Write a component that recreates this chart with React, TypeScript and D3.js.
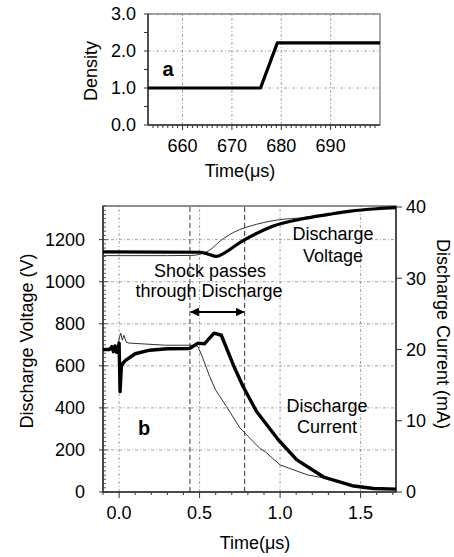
import React from "react";
import * as d3 from "d3";

// ---- panel a: density step ----
const densTime = [653, 675.8, 679.2, 700];
const densValue = [1.0, 1.0, 2.22, 2.22];
const densXTicks = [660, 670, 680, 690];
const densYTicks = [0, 1, 2, 3];

// ---- panel b: discharge voltage (V) ----
const vThickT = [-0.1, 0.3, 0.5, 0.55, 0.604, 0.65, 0.75, 0.85, 0.958, 1.125, 1.3, 1.4375, 1.6, 1.72];
const vThick = [1142, 1141, 1140, 1132, 1120, 1135, 1186, 1228, 1265, 1297, 1320, 1336, 1347, 1352];
const vThinT = [-0.1, 0.3, 0.45, 0.5, 0.5625, 0.63, 0.71, 0.854, 1.02, 1.125, 1.3, 1.4375, 1.6, 1.72];
const vThin = [1124, 1124, 1125, 1130, 1150, 1195, 1234, 1273, 1297, 1303, 1322, 1338, 1349, 1354];

// ---- panel b: discharge current (mA) ----
const iThickT = [-0.1, -0.06, -0.045, -0.035, -0.025, -0.015, -0.005, 0.0, 0.006, 0.014, 0.025, 0.042, 0.1, 0.19, 0.3, 0.44, 0.49, 0.53, 0.59, 0.635, 0.71, 0.77, 0.854, 0.99, 1.104, 1.27, 1.458, 1.58, 1.72];
const iThick = [20.0, 20.0, 20.4, 19.7, 20.5, 19.6, 20.3, 20.9, 14.1, 17.6, 18.1, 18.5, 19.4, 19.9, 20.1, 20.15, 20.9, 20.8, 22.3, 22.0, 17.8, 14.8, 11.3, 7.3, 4.5, 2.1, 0.84, 0.5, 0.4];
const iThinT = [-0.1, -0.01, 0.0, 0.01, 0.02, 0.03, 0.045, 0.0625, 0.29, 0.47, 0.49, 0.52, 0.5625, 0.6, 0.667, 0.75, 0.875, 0.91, 1.0, 1.17, 1.29, 1.458, 1.58, 1.72];
const iThin = [20.0, 20.0, 21.5, 22.3, 21.3, 22.0, 21.0, 20.9, 20.6, 20.6, 20.4, 18.8, 16.2, 14.3, 12.0, 9.0, 6.1, 5.6, 3.8, 2.4, 1.9, 0.84, 0.5, 0.4];

const bXTicks = [0, 0.5, 1.0, 1.5];
const bVTicks = [0, 200, 400, 600, 800, 1000, 1200];
const bITicks = [0, 10, 20, 30, 40];
const shockTimes = [0.44, 0.78];

const FONT = "Liberation Sans, Arial, sans-serif";
const GRID = "#8a8a8a";

export default function App() {
  // panel a scales
  const xa = d3.scaleLinear().domain([653, 700]).range([148, 380]);
  const ya = d3.scaleLinear().domain([0, 3]).range([125, 14]);
  // panel b scales
  const xb = d3.scaleLinear().domain([-0.1, 1.72]).range([103, 396]);
  const yv = d3.scaleLinear().domain([0, 1360]).range([492, 206]);
  const yi = d3.scaleLinear().domain([0, 40]).range([492, 207]);

  const densLine = d3.line<number>().x((_, i) => xa(densTime[i])).y(d => ya(d));
  const vLine = (ts: number[]) => d3.line<number>().x((_, i) => xb(ts[i])).y(d => yv(d)).curve(d3.curveMonotoneX);
  const iLine = (ts: number[]) => d3.line<number>().x((_, i) => xb(ts[i])).y(d => yi(d));

  const [ax0, ax1] = xa.range();
  const [ay0, ay1] = ya.range();
  const [bx0, bx1] = xb.range();
  const [by0, by1] = yv.range();

  const gridDash = "3 2 1 2";

  return (
    <svg width={454} height={557} style={{ position: "absolute", left: 0, top: 0, background: "#fff" }} fontFamily={FONT}>
      {/* ===== panel a ===== */}
      <g>
        {densXTicks.map(t => (
          <line key={"ga" + t} x1={xa(t)} x2={xa(t)} y1={ay0} y2={ay1} stroke={GRID} strokeWidth={0.8} strokeDasharray={gridDash} />
        ))}
        {[1, 2, 3].map(t => (
          <line key={"gay" + t} x1={ax0} x2={ax1} y1={ya(t)} y2={ya(t)} stroke={GRID} strokeWidth={0.8} strokeDasharray={gridDash} />
        ))}
        <rect x={ax0} y={ay1} width={ax1 - ax0} height={ay0 - ay1} fill="none" stroke="#555" strokeWidth={1} />
        <line x1={ax0} x2={ax0} y1={ay0} y2={ay1} stroke="#333" strokeWidth={1.5} />
        <line x1={ax0} x2={ax1} y1={ay0} y2={ay0} stroke="#333" strokeWidth={1.5} />
        {d3.range(0, 3.01, 0.5).map(t => (
          <line key={"tay" + t} x1={ax0 - 4} x2={ax0} y1={ya(t)} y2={ya(t)} stroke="#333" strokeWidth={1} />
        ))}
        {d3.range(654, 700, 1).map(t => (
          <line key={"tax" + t} x1={xa(t)} x2={xa(t)} y1={ay0} y2={ay0 + (t % 10 === 0 ? 5 : 3)} stroke="#333" strokeWidth={1} />
        ))}
        {densYTicks.map(t => (
          <text key={"lay" + t} x={136} y={ya(t)} dy="0.36em" textAnchor="end" fontSize={18}>{t.toFixed(1)}</text>
        ))}
        {densXTicks.map(t => (
          <text key={"lax" + t} x={xa(t)} y={152} textAnchor="middle" fontSize={18}>{t}</text>
        ))}
        <path d={densLine(densValue) || ""} fill="none" stroke="#000" strokeWidth={3.2} strokeLinejoin="round" />
        <text x={168} y={76} textAnchor="middle" fontSize={20} fontWeight="bold">a</text>
        <text transform="translate(97,71) rotate(-90)" textAnchor="middle" fontSize={18}>Density</text>
        <text x={240} y={177} textAnchor="middle" fontSize={18}>Time(μs)</text>
      </g>

      {/* ===== panel b ===== */}
      <g>
        {bXTicks.map(t => (
          <line key={"gb" + t} x1={xb(t)} x2={xb(t)} y1={by0} y2={by1} stroke={GRID} strokeWidth={0.8} strokeDasharray={gridDash} />
        ))}
        {bVTicks.filter(t => t > 0).map(t => (
          <line key={"gby" + t} x1={bx0} x2={bx1} y1={yv(t)} y2={yv(t)} stroke={GRID} strokeWidth={0.8} strokeDasharray={gridDash} />
        ))}
        {shockTimes.map(t => (
          <line key={"sh" + t} x1={xb(t)} x2={xb(t)} y1={by0} y2={by1} stroke="#333" strokeWidth={1} strokeDasharray="5 3" />
        ))}
        <rect x={bx0} y={by1} width={bx1 - bx0} height={by0 - by1} fill="none" stroke="#444" strokeWidth={1.2} />
        <line x1={bx0} x2={bx0} y1={by0} y2={by1} stroke="#333" strokeWidth={1.5} />
        <line x1={bx1} x2={bx1} y1={by0} y2={by1} stroke="#333" strokeWidth={1.5} />
        <line x1={bx0} x2={bx1} y1={by0} y2={by0} stroke="#333" strokeWidth={1.5} />
        {d3.range(0, 1361, 20).map(t => (
          <line key={"tv" + t} x1={bx0} x2={bx0 + (t % 200 === 0 ? 5 : 3)} y1={yv(t)} y2={yv(t)} stroke="#333" strokeWidth={0.8} />
        ))}
        {bVTicks.map(t => (
          <line key={"tvo" + t} x1={bx0 - 4} x2={bx0} y1={yv(t)} y2={yv(t)} stroke="#333" strokeWidth={1} />
        ))}
        {bITicks.map(t => (
          <line key={"ti" + t} x1={bx1} x2={bx1 + 6} y1={yi(t)} y2={yi(t)} stroke="#333" strokeWidth={1} />
        ))}
        {d3.range(-0.1, 1.721, 0.1).map(t => {
          const major = Math.abs(Math.round(t * 2) - t * 2) < 1e-6;
          return <line key={"tx" + t.toFixed(1)} x1={xb(t)} x2={xb(t)} y1={by0} y2={by0 + (major ? 6 : 3)} stroke="#333" strokeWidth={1} />;
        })}
        {bVTicks.map(t => (
          <text key={"lv" + t} x={85} y={yv(t)} dy="0.36em" textAnchor="end" fontSize={18}>{t}</text>
        ))}
        {bITicks.map(t => (
          <text key={"li" + t} x={406} y={yi(t)} dy="0.36em" textAnchor="start" fontSize={18}>{t}</text>
        ))}
        {bXTicks.map(t => (
          <text key={"lx" + t} x={xb(t)} y={519} textAnchor="middle" fontSize={18}>{t.toFixed(1)}</text>
        ))}

        <path d={vLine(vThinT)(vThin) || ""} fill="none" stroke="#333" strokeWidth={1} />
        <path d={vLine(vThickT)(vThick) || ""} fill="none" stroke="#000" strokeWidth={3.2} />
        <path d={iLine(iThinT)(iThin) || ""} fill="none" stroke="#333" strokeWidth={1} strokeLinejoin="round" />
        <path d={iLine(iThickT)(iThick) || ""} fill="none" stroke="#000" strokeWidth={3.4} strokeLinejoin="round" />

        <defs>
          <marker id="ah" viewBox="0 0 10 10" refX={9} refY={5} markerWidth={4} markerHeight={4} orient="auto-start-reverse">
            <path d="M0,0 L10,5 L0,10 z" fill="#000" />
          </marker>
        </defs>
        <line x1={xb(shockTimes[0]) + 1} x2={xb(shockTimes[1]) - 1} y1={312} y2={312} stroke="#000" strokeWidth={2.2}
          markerStart="url(#ah)" markerEnd="url(#ah)" />

        <text x={210} y={277} textAnchor="middle" fontSize={18}>Shock passes</text>
        <text x={209} y={297} textAnchor="middle" fontSize={18}>through Discharge</text>
        <text x={333} y={240} textAnchor="middle" fontSize={18}>Discharge</text>
        <text x={333} y={262} textAnchor="middle" fontSize={18}>Voltage</text>
        <text x={327} y={412} textAnchor="middle" fontSize={18}>Discharge</text>
        <text x={327} y={433} textAnchor="middle" fontSize={18}>Current</text>
        <text x={144} y={435} textAnchor="middle" fontSize={20} fontWeight="bold">b</text>

        <text transform="translate(33,341) rotate(-90)" textAnchor="middle" fontSize={18}>Discharge Voltage (V)</text>
        <text transform="translate(437,334) rotate(90)" textAnchor="middle" fontSize={18}>Discharge Current (mA)</text>
        <text x={255} y={549} textAnchor="middle" fontSize={18}>Time(μs)</text>
      </g>
    </svg>
  );
}
